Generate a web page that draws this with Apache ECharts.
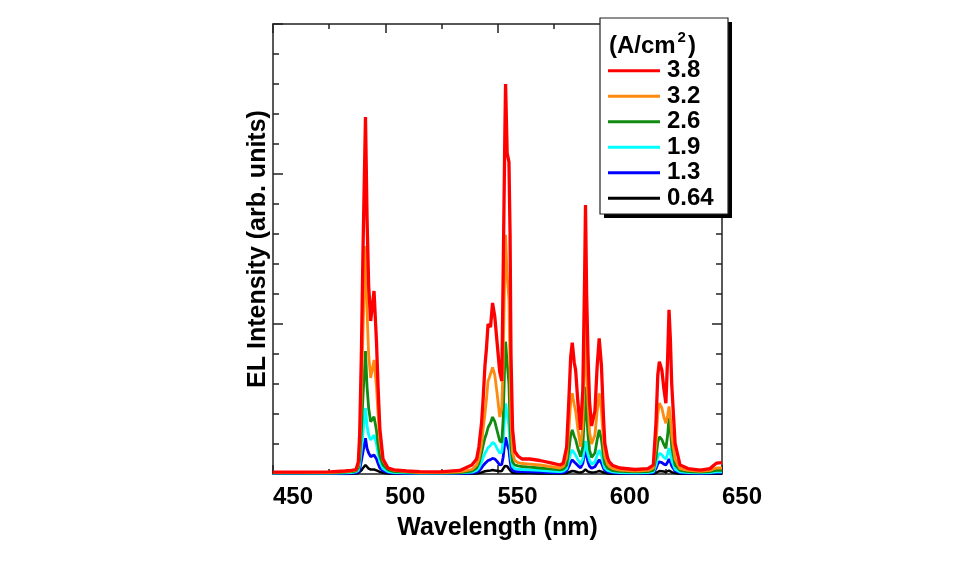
<!DOCTYPE html>
<html>
<head>
<meta charset="utf-8">
<script src="https://cdn.jsdelivr.net/npm/echarts@6/dist/echarts.min.js"></script>
<style>
html,body{margin:0;padding:0;background:#fff;}
#chart{width:967px;height:565px;}
</style>
</head>
<body>
<div id="chart"></div>
<script>
// Wavelength sample points (nm, axis scale)
var wavelength = [450.0, 461.9, 475.3,
  482.0, 485.0, 487.0, 488.0, 488.6, 489.4, 490.1, 491.2, 491.9, 492.6, 493.5, 495.0, 496.1, 496.8, 497.6, 499.0, 501.2, 504.0, 509.5,
  515.4, 524.3, 533.2, 538.6,
  540.7, 541.7, 542.9, 543.6, 544.4, 545.1, 545.8, 546.3, 546.9, 547.8, 548.8, 549.8, 551.0, 551.9, 552.5, 553.3, 553.6, 554.3, 555.1, 555.6, 556.0, 556.7, 557.7, 559.1, 560.9, 564.4, 568.9, 573.3, 577.8,
  579.3, 580.8, 581.8, 582.6, 583.3, 584.2, 584.8, 585.8, 587.0, 588.0, 588.8, 589.2, 589.7, 590.3, 591.0, 591.9, 593.4, 594.4, 595.3, 596.3, 597.2, 597.8, 599.0, 599.8, 601.4, 604.5, 611.2,
  617.0, 619.4, 620.6, 621.4, 622.1, 623.2, 624.1, 625.0, 625.8, 626.4, 627.0, 627.6, 629.1, 631.3, 634.9, 640.3, 644.7, 646.5, 647.6, 650.0];

// Current densities (A/cm^2) - legend labels
var densities = ['3.8', '3.2', '2.6', '1.9', '1.3', '0.64'];

var el_3_8 = [0.06, 0.06, 0.07,
  0.1, 0.12, 0.15, 0.4, 1.3, 4.1, 7.5, 11.9, 8.5, 6.3, 5.1, 6.1, 4.4, 2.9, 1.5, 0.5, 0.2, 0.14, 0.1,
  0.08, 0.07, 0.12, 0.3,
  0.5, 0.9, 1.7, 2.5, 3.6, 4.2, 5.0, 5.0, 4.9, 5.7, 5.24, 4.4, 3.4, 3.1, 6.5, 11.5, 13.0, 10.7, 10.4, 8.0, 4.0, 1.5, 0.75, 0.6, 0.5, 0.5, 0.45, 0.38, 0.3,
  0.36, 0.9, 2.5, 3.9, 4.38, 3.7, 3.47, 2.4, 1.47, 2.8, 6.5, 8.97, 6.0, 4.0, 2.4, 1.6, 2.1, 3.6, 4.52, 3.6, 1.9, 1.02, 0.55, 0.4, 0.28, 0.2, 0.15,
  0.18, 0.3, 1.7, 3.3, 3.74, 3.47, 2.85, 2.36, 3.9, 5.47, 4.5, 3.0, 1.02, 0.3, 0.18, 0.13, 0.18, 0.3, 0.36, 0.38];

var el_3_2 = [0.05, 0.05, 0.05,
  0.08, 0.1, 0.13, 0.3, 0.9, 2.7, 4.8, 7.6, 5.4, 4.0, 3.2, 3.8, 2.9, 2.0, 1.1, 0.45, 0.2, 0.12, 0.08,
  0.05, 0.05, 0.07, 0.15,
  0.3, 0.5, 1.0, 1.5, 2.0, 2.5, 3.1, 3.2, 3.25, 3.55, 3.3, 2.7, 1.9, 2.2, 3.6, 7.2, 7.97, 6.6, 5.8, 3.5, 1.8, 0.7, 0.45, 0.38, 0.35, 0.33, 0.3, 0.25, 0.2,
  0.25, 0.55, 1.5, 2.4, 2.69, 2.3, 2.1, 1.5, 0.91, 1.6, 3.8, 5.36, 3.6, 2.4, 1.4, 1.0, 1.3, 2.1, 2.69, 2.1, 1.1, 0.6, 0.33, 0.25, 0.18, 0.13, 0.1,
  0.12, 0.2, 1.0, 2.0, 2.36, 2.2, 1.9, 1.69, 1.95, 2.25, 1.9, 1.3, 0.5, 0.18, 0.12, 0.09, 0.12, 0.18, 0.2, 0.2];

var el_2_6 = [0.04, 0.04, 0.04,
  0.06, 0.08, 0.1, 0.2, 0.5, 1.5, 2.6, 4.1, 2.9, 2.2, 1.74, 1.91, 1.45, 1.0, 0.6, 0.3, 0.14, 0.08, 0.06,
  0.04, 0.04, 0.05, 0.1,
  0.2, 0.35, 0.7, 0.95, 1.2, 1.35, 1.55, 1.6, 1.7, 1.9, 1.75, 1.45, 1.1, 1.05, 1.8, 3.9, 4.41, 3.7, 3.0, 1.6, 0.9, 0.4, 0.3, 0.27, 0.25, 0.23, 0.2, 0.17, 0.14,
  0.16, 0.3, 0.8, 1.3, 1.47, 1.25, 1.15, 0.85, 0.58, 0.9, 2.1, 2.91, 2.0, 1.3, 0.8, 0.55, 0.7, 1.15, 1.47, 1.15, 0.6, 0.35, 0.2, 0.15, 0.11, 0.09, 0.07,
  0.08, 0.12, 0.55, 1.05, 1.24, 1.15, 0.98, 0.86, 1.3, 1.86, 1.5, 0.9, 0.3, 0.12, 0.08, 0.06, 0.08, 0.11, 0.12, 0.12];

var el_1_9 = [0.03, 0.03, 0.03,
  0.04, 0.05, 0.07, 0.12, 0.3, 0.85, 1.4, 2.2, 1.6, 1.3, 1.13, 1.3, 1.0, 0.7, 0.4, 0.18, 0.08, 0.05, 0.04,
  0.03, 0.03, 0.04, 0.06,
  0.12, 0.2, 0.4, 0.55, 0.68, 0.78, 0.88, 0.92, 0.95, 1.05, 1.0, 0.85, 0.7, 0.72, 1.1, 2.1, 2.35, 2.0, 1.6, 0.9, 0.5, 0.25, 0.18, 0.16, 0.15, 0.14, 0.12, 0.1, 0.08,
  0.1, 0.18, 0.45, 0.7, 0.8, 0.7, 0.62, 0.48, 0.33, 0.5, 0.9, 1.1, 0.85, 0.65, 0.45, 0.32, 0.4, 0.62, 0.8, 0.62, 0.33, 0.2, 0.12, 0.09, 0.07, 0.05, 0.04,
  0.05, 0.07, 0.3, 0.58, 0.69, 0.64, 0.55, 0.5, 0.68, 0.86, 0.7, 0.45, 0.16, 0.07, 0.05, 0.04, 0.05, 0.06, 0.07, 0.07];

var el_1_3 = [0.02, 0.02, 0.02,
  0.02, 0.03, 0.04, 0.07, 0.15, 0.45, 0.75, 1.19, 0.85, 0.7, 0.58, 0.63, 0.5, 0.35, 0.2, 0.1, 0.05, 0.03, 0.02,
  0.02, 0.02, 0.02, 0.03,
  0.06, 0.1, 0.2, 0.28, 0.35, 0.4, 0.45, 0.46, 0.48, 0.52, 0.5, 0.42, 0.3, 0.32, 0.55, 1.1, 1.22, 1.0, 0.8, 0.45, 0.25, 0.12, 0.09, 0.08, 0.08, 0.07, 0.06, 0.05, 0.04,
  0.05, 0.1, 0.25, 0.4, 0.47, 0.4, 0.36, 0.28, 0.2, 0.35, 0.7, 0.86, 0.6, 0.4, 0.26, 0.19, 0.24, 0.37, 0.47, 0.37, 0.2, 0.12, 0.07, 0.05, 0.04, 0.03, 0.03,
  0.03, 0.04, 0.18, 0.34, 0.41, 0.38, 0.33, 0.3, 0.4, 0.5, 0.41, 0.27, 0.1, 0.04, 0.03, 0.02, 0.03, 0.04, 0.04, 0.04];

var el_0_64 = [0.01, 0.01, 0.01,
  0.0, 0.01, 0.02, 0.03, 0.05, 0.12, 0.2, 0.3, 0.24, 0.18, 0.15, 0.15, 0.12, 0.1, 0.07, 0.04, 0.02, 0.01, 0.01,
  0.01, 0.01, 0.01, 0.01,
  0.02, 0.03, 0.05, 0.07, 0.09, 0.1, 0.11, 0.11, 0.12, 0.13, 0.12, 0.11, 0.09, 0.1, 0.15, 0.27, 0.3, 0.26, 0.2, 0.12, 0.07, 0.04, 0.03, 0.03, 0.03, 0.03, 0.02, 0.02, 0.02,
  0.02, 0.03, 0.06, 0.09, 0.1, 0.09, 0.08, 0.06, 0.05, 0.07, 0.12, 0.15, 0.11, 0.08, 0.06, 0.05, 0.06, 0.08, 0.1, 0.08, 0.05, 0.03, 0.02, 0.02, 0.01, 0.01, 0.01,
  0.01, 0.01, 0.04, 0.08, 0.1, 0.09, 0.08, 0.07, 0.09, 0.11, 0.09, 0.06, 0.03, 0.01, 0.01, 0.01, 0.01, 0.01, 0.01, 0.01];

var xTicks = [450, 500, 550, 600, 650];

var FONT = '"Liberation Sans", Arial, Helvetica, sans-serif';
var seriesValues = {'3.8': el_3_8, '3.2': el_3_2, '2.6': el_2_6, '1.9': el_1_9, '1.3': el_1_3, '0.64': el_0_64};
var colors = {'3.8': '#ff0000', '3.2': '#ff8a10', '2.6': '#118a11', '1.9': '#00ffff', '1.3': '#0000ff', '0.64': '#000000'};
var widths = {'3.8': 3.3, '3.2': 2.8, '2.6': 2.8, '1.9': 2.8, '1.3': 2.8, '0.64': 2.5};

// draw from lowest to highest so red lies on top
var drawOrder = densities.slice().reverse();
var series = drawOrder.map(function (d) {
  var vals = seriesValues[d];
  return {
    name: d,
    type: 'line',
    xAxisIndex: 0,
    yAxisIndex: 0,
    symbol: 'none',
    smooth: false,
    animation: false,
    color: colors[d],
    lineStyle: {color: colors[d], width: widths[d]},
    data: wavelength.map(function (w, i) { return [w, vals[i]]; })
  };
});

var axisLineStyle = {color: '#222', width: 1.5};

var chart = echarts.init(document.getElementById('chart'));
chart.setOption({
  backgroundColor: '#fff',
  animation: false,
  grid: {left: 273, top: 24, width: 449, height: 450},
  xAxis: [{
    type: 'value', position: 'bottom', min: 450, max: 650, interval: 50,
    name: 'Wavelength (nm)', nameLocation: 'middle', nameGap: 42,
    nameTextStyle: {fontFamily: FONT, fontWeight: 'bold', fontSize: 25, color: '#000'},
    axisLine: {show: true, onZero: false, lineStyle: axisLineStyle},
    axisTick: {show: true, inside: true, length: 9, lineStyle: axisLineStyle},
    minorTick: {show: true, splitNumber: 2, length: 5, lineStyle: axisLineStyle},
    splitLine: {show: false},
    axisLabel: {
      show: true, margin: 11, align: 'left', showMinLabel: true, showMaxLabel: true,
      fontFamily: FONT, fontWeight: 'bold', fontSize: 24, color: '#000',
      customValues: xTicks
    }
  }, {
    type: 'value', position: 'top', min: 450, max: 650, interval: 50,
    axisLine: {show: true, onZero: false, lineStyle: axisLineStyle},
    axisTick: {show: true, inside: true, length: 9, lineStyle: axisLineStyle},
    minorTick: {show: true, splitNumber: 2, length: 5, lineStyle: axisLineStyle},
    splitLine: {show: false},
    axisLabel: {show: false}
  }],
  yAxis: [{
    type: 'value', position: 'left', min: 0, max: 15, interval: 5,
    name: 'EL Intensity (arb. units)', nameLocation: 'middle', nameGap: 2,
    nameTextStyle: {fontFamily: FONT, fontWeight: 'bold', fontSize: 25, color: '#000'},
    axisLine: {show: true, onZero: false, lineStyle: axisLineStyle},
    axisTick: {show: true, inside: true, length: 10, lineStyle: axisLineStyle},
    minorTick: {show: true, splitNumber: 5, length: 6, lineStyle: axisLineStyle},
    splitLine: {show: false},
    axisLabel: {show: false}
  }, {
    type: 'value', position: 'right', min: 0, max: 15, interval: 5,
    axisLine: {show: true, onZero: false, lineStyle: axisLineStyle},
    axisTick: {show: true, inside: true, length: 10, lineStyle: axisLineStyle},
    minorTick: {show: true, splitNumber: 5, length: 6, lineStyle: axisLineStyle},
    splitLine: {show: false},
    axisLabel: {show: false}
  }],
  legend: {
    data: densities,
    orient: 'vertical',
    left: 608, top: 58,
    padding: 0,
    itemGap: 0,
    itemWidth: 52, itemHeight: 3,
    icon: 'rect',
    z: 20,
    selectedMode: false,
    textStyle: {fontFamily: FONT, fontWeight: 'bold', fontSize: 24, color: '#000', lineHeight: 25.5, padding: [0, 0, 0, 2]}
  },
  graphic: [
    {type: 'rect', z: 10, shape: {x: 604, y: 22, width: 128, height: 196}, style: {fill: '#000'}},
    {type: 'rect', z: 11, shape: {x: 600, y: 18, width: 128, height: 196}, style: {fill: '#fff', stroke: '#222', lineWidth: 1.2}},
    {type: 'text', z: 12, x: 609, y: 46.5, style: {text: '(A/cm', font: 'bold 24px ' + FONT, fill: '#000', verticalAlign: 'middle', align: 'left'}},
    {type: 'text', z: 12, x: 677.5, y: 37.5, style: {text: '2', font: 'bold 15px ' + FONT, fill: '#000', verticalAlign: 'middle', align: 'left'}},
    {type: 'text', z: 12, x: 688, y: 46.5, style: {text: ')', font: 'bold 24px ' + FONT, fill: '#000', verticalAlign: 'middle', align: 'left'}}
  ],
  series: series
});
</script>
</body>
</html>
